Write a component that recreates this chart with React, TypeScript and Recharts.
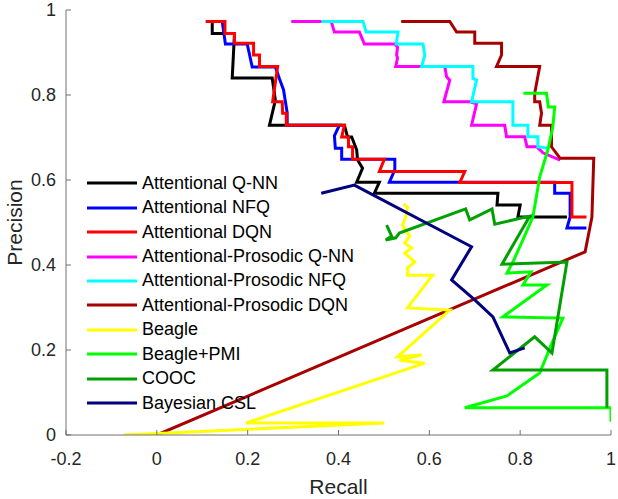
import React from "react";
import { LineChart, Line, XAxis, YAxis, Legend } from "recharts";

const FONT = "'Liberation Sans', Arial, Helvetica, sans-serif";

const xTicks = [-0.2, 0, 0.2, 0.4, 0.6, 0.8, 1];
const yTicks = [0, 0.2, 0.4, 0.6, 0.8, 1];

// Attentional Q-NN
const qnnRecall = [0.108, 0.122, 0.122, 0.171, 0.166, 0.254, 0.261, 0.248, 0.413, 0.42, 0.429, 0.44, 0.442, 0.453, 0.44, 0.49, 0.479, 0.751, 0.749, 0.8, 0.795, 0.903];
const qnnPrecision = [0.973, 0.973, 0.945, 0.945, 0.84, 0.84, 0.788, 0.729, 0.729, 0.701, 0.701, 0.671, 0.647, 0.628, 0.595, 0.595, 0.569, 0.569, 0.541, 0.541, 0.513, 0.513];

// Attentional NFQ
const nfqRecall = [0.108, 0.144, 0.151, 0.199, 0.21, 0.261, 0.27, 0.279, 0.287, 0.287, 0.402, 0.391, 0.393, 0.407, 0.407, 0.524, 0.524, 0.512, 0.876, 0.876, 0.91, 0.91, 0.903, 0.946];
const nfqPrecision = [0.973, 0.973, 0.92, 0.92, 0.866, 0.866, 0.838, 0.812, 0.758, 0.729, 0.729, 0.704, 0.675, 0.675, 0.649, 0.649, 0.624, 0.595, 0.595, 0.569, 0.569, 0.513, 0.487, 0.487];

// Attentional DQN
const dqnRecall = [0.108, 0.15, 0.15, 0.171, 0.171, 0.213, 0.213, 0.226, 0.226, 0.266, 0.255, 0.276, 0.277, 0.285, 0.285, 0.413, 0.407, 0.422, 0.422, 0.431, 0.431, 0.501, 0.49, 0.678, 0.667, 0.914, 0.914, 0.946];
const dqnPrecision = [0.973, 0.973, 0.945, 0.945, 0.922, 0.922, 0.894, 0.894, 0.867, 0.867, 0.784, 0.784, 0.757, 0.757, 0.729, 0.729, 0.701, 0.701, 0.678, 0.678, 0.649, 0.649, 0.62, 0.62, 0.594, 0.594, 0.513, 0.513];

// Attentional-Prosodic Q-NN
const apQnnRecall = [0.296, 0.384, 0.391, 0.446, 0.457, 0.523, 0.53, 0.528, 0.53, 0.526, 0.634, 0.638, 0.645, 0.632, 0.689, 0.704, 0.693, 0.766, 0.77, 0.81, 0.815, 0.837, 0.85, 0.888];
const apQnnPrecision = [0.973, 0.973, 0.948, 0.948, 0.92, 0.92, 0.913, 0.894, 0.887, 0.867, 0.867, 0.843, 0.835, 0.784, 0.784, 0.779, 0.729, 0.729, 0.702, 0.702, 0.678, 0.678, 0.664, 0.647];

// Attentional-Prosodic NFQ
const apNfqRecall = [0.362, 0.454, 0.461, 0.531, 0.527, 0.586, 0.59, 0.583, 0.696, 0.696, 0.704, 0.693, 0.784, 0.784, 0.817, 0.817, 0.839, 0.839, 0.861];
const apNfqPrecision = [0.973, 0.973, 0.948, 0.948, 0.92, 0.92, 0.894, 0.867, 0.867, 0.839, 0.835, 0.784, 0.784, 0.729, 0.729, 0.702, 0.702, 0.678, 0.675];

// Attentional-Prosodic DQN
const apDqnRecall = [0.538, 0.645, 0.66, 0.7, 0.7, 0.759, 0.759, 0.748, 0.843, 0.832, 0.832, 0.843, 0.847, 0.843, 0.869, 0.869, 0.888, 0.962, 0.958, 0.943, 0.0];
const apDqnPrecision = [0.973, 0.973, 0.948, 0.948, 0.922, 0.922, 0.894, 0.867, 0.867, 0.804, 0.784, 0.784, 0.757, 0.729, 0.729, 0.678, 0.651, 0.651, 0.513, 0.431, 0.0];

// Beagle
const beagleRecall = [0.543, 0.552, 0.548, 0.541, 0.55, 0.557, 0.546, 0.561, 0.546, 0.568, 0.552, 0.552, 0.607, 0.552, 0.645, 0.53, 0.583, 0.534, 0.59, 0.196, 0.501, -0.072];
const beaglePrecision = [0.544, 0.536, 0.513, 0.494, 0.478, 0.468, 0.452, 0.44, 0.428, 0.407, 0.393, 0.376, 0.376, 0.299, 0.294, 0.184, 0.188, 0.176, 0.169, 0.028, 0.028, 0.0];

// Beagle+PMI
const pmiRecall = [0.807, 0.858, 0.862, 0.876, 0.872, 0.861, 0.843, 0.828, 0.806, 0.784, 0.771, 0.824, 0.806, 0.859, 0.762, 0.894, 0.87, 0.843, 0.771, 0.678, 1.0, 1.0];
const pmiPrecision = [0.804, 0.804, 0.772, 0.772, 0.725, 0.671, 0.607, 0.513, 0.459, 0.407, 0.381, 0.384, 0.353, 0.353, 0.278, 0.275, 0.216, 0.146, 0.092, 0.064, 0.064, 0.031];

// COOC
const coocRecall = [0.506, 0.517, 0.504, 0.526, 0.534, 0.68, 0.689, 0.738, 0.744, 0.821, 0.76, 0.903, 0.87, 0.832, 0.74, 0.991, 0.991];
const coocPrecision = [0.494, 0.468, 0.459, 0.464, 0.475, 0.532, 0.506, 0.532, 0.496, 0.515, 0.402, 0.407, 0.193, 0.231, 0.153, 0.153, 0.064];

// Bayesian CSL
const cslRecall = [0.362, 0.435, 0.693, 0.649, 0.7, 0.74, 0.777, 0.81];
const cslPrecision = [0.569, 0.588, 0.443, 0.365, 0.318, 0.278, 0.193, 0.205];

const toPoints = (recall: number[], precision: number[]) =>
  recall.map((r, i) => ({ recall: r, precision: precision[i] }));

const series = [
  { name: "Attentional Q-NN", color: "#000000", data: toPoints(qnnRecall, qnnPrecision) },
  { name: "Attentional NFQ", color: "#0000ff", data: toPoints(nfqRecall, nfqPrecision) },
  { name: "Attentional DQN", color: "#ff0000", data: toPoints(dqnRecall, dqnPrecision) },
  { name: "Attentional-Prosodic Q-NN", color: "#ff00ff", data: toPoints(apQnnRecall, apQnnPrecision) },
  { name: "Attentional-Prosodic NFQ", color: "#00ffff", data: toPoints(apNfqRecall, apNfqPrecision) },
  { name: "Attentional-Prosodic DQN", color: "#a80000", data: toPoints(apDqnRecall, apDqnPrecision) },
  { name: "Beagle", color: "#ffff00", data: toPoints(beagleRecall, beaglePrecision) },
  { name: "Beagle+PMI", color: "#00ff00", data: toPoints(pmiRecall, pmiPrecision) },
  { name: "COOC", color: "#00a000", data: toPoints(coocRecall, coocPrecision) },
  { name: "Bayesian CSL", color: "#000080", data: toPoints(cslRecall, cslPrecision) },
];

const renderLegend = () => (
  <div style={{ fontFamily: FONT, fontSize: 18, color: "#000" }}>
    {series.map((s) => (
      <div key={s.name} style={{ display: "flex", alignItems: "center", height: 24.45, whiteSpace: "nowrap" }}>
        <svg width={50} height={4} style={{ display: "block" }}>
          <line x1={0} y1={2} x2={50} y2={2} stroke={s.color} strokeWidth={3} />
        </svg>
        <span style={{ marginLeft: 5 }}>{s.name}</span>
      </div>
    ))}
  </div>
);

const renderYLabel = (props: any) => {
  const vb = props.viewBox || { y: 10, height: 425 };
  const cx = 15;
  const cy = vb.y + vb.height / 2;
  return (
    <text x={cx} y={cy} dy={7} transform={`rotate(-90 ${cx} ${cy})`} textAnchor="middle"
      fill="#262626" fontSize={21} fontFamily={FONT}>
      Precision
    </text>
  );
};

export default function App() {
  return (
    <div style={{ width: 618, height: 499, background: "#fff" }}>
      <style>{"body{margin:0}"}</style>
      <LineChart width={618} height={499} margin={{ top: 10, right: 7, bottom: 0, left: 16 }}>
        <XAxis type="number" dataKey="recall" domain={[-0.2, 1]} ticks={xTicks} interval={0}
          allowDataOverflow height={64} stroke="#707070" tickSize={-5} tickMargin={22}
          tick={{ fill: "#262626", fontSize: 18, fontFamily: FONT }}
          label={{ value: "Recall", position: "insideBottom", offset: 5, fill: "#262626", fontSize: 21, fontFamily: FONT }} />
        <YAxis type="number" domain={[0, 1]} ticks={yTicks} interval={0} allowDataOverflow
          width={50} stroke="#707070" tickSize={-5} tickMargin={15}
          tick={{ fill: "#262626", fontSize: 18, fontFamily: FONT }}
          label={{ content: renderYLabel }} />
        {series.map((s) => (
          <Line key={s.name} name={s.name} data={s.data} dataKey="precision" type="linear"
            stroke={s.color} strokeWidth={3} dot={false} activeDot={false}
            isAnimationActive={false} />
        ))}
        <Legend content={renderLegend} layout="vertical" align="center" verticalAlign="middle"
          wrapperStyle={{ left: 87, top: 171, width: "auto", height: "auto" }} />
      </LineChart>
    </div>
  );
}
